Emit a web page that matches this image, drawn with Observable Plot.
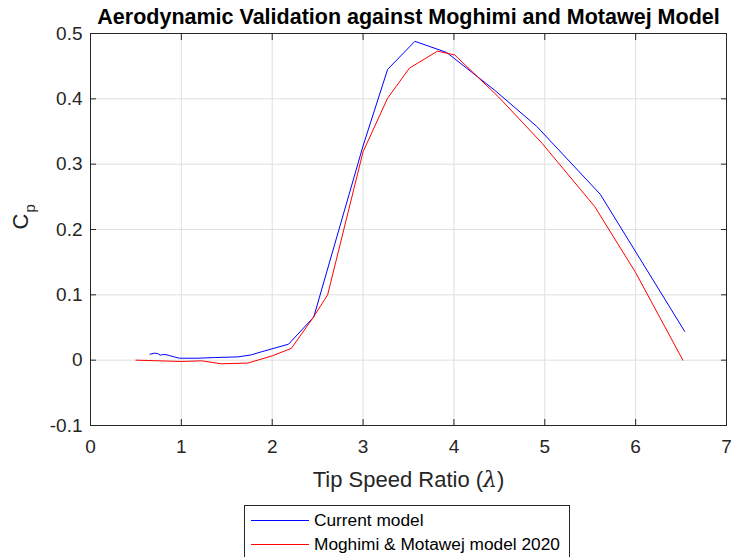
<!DOCTYPE html>
<html><head><meta charset="utf-8">
<script src="https://cdn.jsdelivr.net/npm/d3@7"></script>
<script src="https://cdn.jsdelivr.net/npm/@observablehq/plot@0.6"></script>
<style>
body{margin:0;background:#fff;font-family:"Liberation Sans",Arial,sans-serif;}
#wrap{position:relative;width:739px;height:557px;overflow:hidden;background:#fff}
#legend{position:absolute;left:244px;top:505px;width:326px;height:56px;border:1px solid #262626;box-sizing:border-box;background:#fff;font-size:17.3px;color:#000}
.row{position:absolute;left:6px;height:24px;display:flex;align-items:center}
.sw{width:58px;height:0;border-top:1px solid;margin-right:5px}
</style></head><body><div id="wrap"></div>
<script>
const currentX = [0.655,0.702,0.740,0.768,0.795,0.831,0.868,0.923,0.978,1.181,1.364,1.622,1.769,1.880,2.18,2.457,3.0,3.27,3.57,3.92,4.45,4.91,5.61,6.54];
const currentY = [0.0091,0.0107,0.0101,0.0076,0.0085,0.0085,0.0070,0.0050,0.0030,0.0030,0.0040,0.0050,0.0081,0.0127,0.0245,0.066,0.328,0.445,0.488,0.471,0.413,0.358,0.254,0.044];
const moghimiX = [0.5,1.0,1.22,1.44,1.73,2.0,2.21,2.45,2.61,3.0,3.27,3.51,3.82,4.01,4.49,4.97,5.55,6.0,6.52];
const moghimiY = [0.0,-0.002,-0.001,-0.0055,-0.0045,0.0066,0.018,0.065,0.1,0.319,0.401,0.447,0.473,0.467,0.403,0.332,0.235,0.134,0.0];
const xTicks = [0,1,2,3,4,5,6,7];
const yTicks = [-0.1,0,0.1,0.2,0.3,0.4,0.5];
const seriesNames = ["Current model","Moghimi & Motawej model 2020"];
const seriesColors = ["#0000ff","#ff0000"];
const titleText = "Aerodynamic Validation against Moghimi and Motawej Model";
const xLabel = "Tip Speed Ratio (λ)";
const yLabelMain = "C";
const yLabelSub = "p";

const rows = [
  ...currentX.map((x,i)=>({x, y: currentY[i], series: seriesNames[0]})),
  ...moghimiX.map((x,i)=>({x, y: moghimiY[i], series: seriesNames[1]}))
];

const font = "Liberation Sans, Arial, sans-serif";
const plot = Plot.plot({
  width: 739, height: 500,
  marginLeft: 90, marginRight: 13, marginTop: 33, marginBottom: 75,
  style: {fontFamily: font, color: "#262626", background: "#fff", overflow: "visible"},
  x: {domain: [0,7], label: null},
  y: {domain: [-0.1,0.5], label: null},
  color: {domain: seriesNames, range: seriesColors},
  marks: [
    Plot.gridX(xTicks, {stroke: "#dfdfdf", strokeOpacity: 1}),
    Plot.gridY(yTicks, {stroke: "#dfdfdf", strokeOpacity: 1}),
    Plot.line(rows, {x: "x", y: "y", z: "series", stroke: "series", strokeWidth: 1}),
    Plot.frame({stroke: "#262626"}),
    Plot.axisX(xTicks, {anchor: "bottom", tickSize: 0, tickPadding: 14, fontSize: 19, fill: "#262626"}),
    Plot.axisX(xTicks, {anchor: "bottom", tickSize: -6, tickFormat: () => "", stroke: "#262626"}),
    Plot.axisX(xTicks, {anchor: "top", tickSize: -6, tickFormat: () => "", stroke: "#262626"}),
    Plot.axisY(yTicks, {anchor: "left", tickSize: 0, tickPadding: 8, fontSize: 19, fill: "#262626", tickFormat: d => String(d)}),
    Plot.axisY(yTicks, {anchor: "left", tickSize: -6, tickFormat: () => "", stroke: "#262626"}),
    Plot.axisY(yTicks, {anchor: "right", tickSize: -6, tickFormat: () => "", stroke: "#262626"}),
    Plot.text([titleText], {frameAnchor: "top", dy: -16, fontWeight: "bold", fontSize: 21.5, fill: "#000", lineAnchor: "middle"}),
    Plot.text([xLabel], {frameAnchor: "bottom", dy: 54, fontSize: 22, fill: "#262626", lineAnchor: "middle"}),
    Plot.text([yLabelMain + yLabelSub], {frameAnchor: "left", dx: -70, rotate: -90, fontSize: 22, fill: "#262626", lineAnchor: "middle"})
  ]
});

// rich text for labels
d3.select(plot).selectAll("text").each(function(){
  const t = d3.select(this);
  const s = this.textContent;
  if (s === xLabel) {
    const i = s.indexOf("λ");
    t.text(null);
    t.append("tspan").text(s.slice(0,i));
    t.append("tspan").attr("font-style","italic").attr("font-family","DejaVu Serif, serif").text("λ");
    t.append("tspan").text(s.slice(i+1));
  } else if (s === yLabelMain + yLabelSub) {
    t.text(null);
    t.append("tspan").text(yLabelMain);
    t.append("tspan").attr("dy","7").attr("dx","1").attr("font-size","15px").text(yLabelSub);
  }
});

const wrap = document.getElementById("wrap");
wrap.appendChild(plot);
const legend = document.createElement("div");
legend.id = "legend";
seriesNames.forEach((n,i) => {
  const r = document.createElement("div");
  r.className = "row";
  r.style.top = (2 + i*24.5) + "px";
  const sw = document.createElement("span");
  sw.className = "sw";
  sw.style.borderTopColor = seriesColors[i];
  const tx = document.createElement("span");
  tx.textContent = n;
  r.appendChild(sw); r.appendChild(tx);
  legend.appendChild(r);
});
wrap.appendChild(legend);
</script></body></html>
